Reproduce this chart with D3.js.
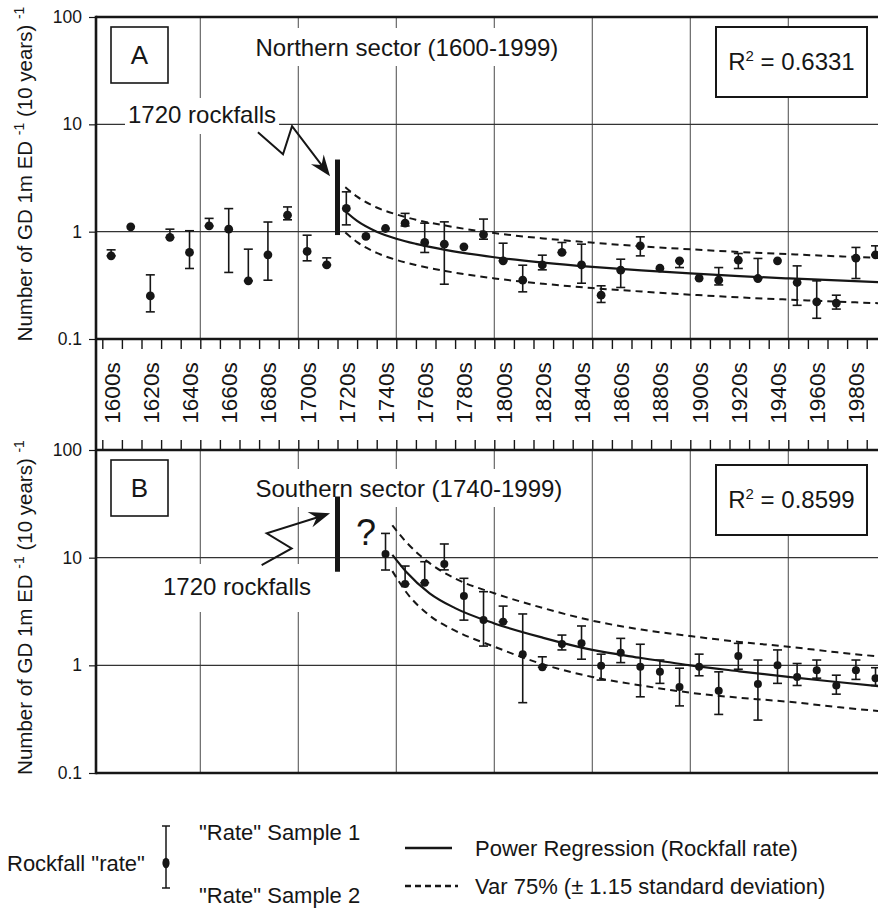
<!DOCTYPE html>
<html>
<head>
<meta charset="utf-8">
<script src="https://cdn.jsdelivr.net/npm/d3@7"></script>
<style>
  body { margin: 0; background: #fff; }
  svg { display: block; font-family: "Liberation Sans", Arial, sans-serif; }
</style>
</head>
<body>
<div id="chart"></div>
<script>
// decades (start year) and rates, panel A = northern sector
const decadesA = [1600,1610,1620,1630,1640,1650,1660,1670,1680,1690,1700,1710,1720,1730,1740,1750,1760,1770,1780,1790,
                  1800,1810,1820,1830,1840,1850,1860,1870,1880,1890,1900,1910,1920,1930,1940,1950,1960,1970,1980,1990];
const rateA    = [0.595,1.11,0.252,0.883,0.64,1.13,1.055,0.348,0.608,1.425,0.654,0.49,1.645,0.902,1.07,1.2,0.793,0.765,0.722,0.94,
                  0.535,0.353,0.49,0.64,0.49,0.256,0.438,0.738,0.457,0.535,0.369,0.353,0.542,0.366,0.535,0.336,0.222,0.216,0.566,0.608];
const sample1A = [0.677,null,0.396,1.055,1.02,1.33,1.64,0.687,1.23,1.70,0.927,0.57,2.35,null,null,1.48,1.2,1.234,null,1.31,
                  0.781,0.487,0.604,0.793,0.765,0.313,0.554,0.895,null,0.535,null,0.463,0.626,0.563,null,0.48,0.348,0.256,0.713,0.738];
const sample2A = [0.595,null,0.179,0.883,0.454,1.13,0.417,0.348,0.353,1.29,0.535,0.49,1.157,null,null,1.13,0.64,0.324,null,0.851,
                  0.535,0.275,0.441,0.64,0.331,0.219,0.302,0.595,null,0.463,null,0.319,0.454,0.366,null,0.206,0.156,0.19,0.366,0.608];

// panel B = southern sector
const decadesB = [1740,1750,1760,1770,1780,1790,1800,1810,1820,1830,1840,1850,1860,1870,1880,1890,1900,1910,1920,1930,1940,1950,1960,1970,1980,1990];
const rateB    = [10.8,5.69,5.85,8.73,4.40,2.63,2.54,1.27,0.96,1.58,1.60,0.99,1.31,0.97,0.87,0.63,0.97,0.58,1.22,0.67,1.0,0.78,0.90,0.65,0.90,0.76];
const sample1B = [16.8,8.36,9.17,13.4,6.43,4.83,3.55,3.0,1.2,1.91,2.32,1.27,1.78,1.57,1.12,0.94,1.27,0.87,1.6,1.12,1.39,1.04,1.12,0.81,1.12,0.95];
const sample2B = [7.68,5.69,5.85,7.7,2.63,1.51,2.54,0.45,0.96,1.39,1.14,0.73,1.06,0.51,0.68,0.42,0.80,0.35,0.92,0.31,0.68,0.65,0.76,0.54,0.74,0.65];

// power regression and +-1.15 sd band
const fitYearsA = [1724,1730,1740,1750,1760,1775,1800,1825,1850,1875,1900,1925,1950,1975,2000];
const fitA      = [1.55,1.26,1.00,0.86,0.77,0.677,0.578,0.515,0.47,0.436,0.408,0.385,0.367,0.351,0.337];
const upperA    = [2.6,2.12,1.68,1.45,1.29,1.14,0.97,0.865,0.79,0.73,0.685,0.647,0.617,0.59,0.566];
const lowerA    = [0.98,0.80,0.635,0.546,0.489,0.43,0.367,0.327,0.298,0.277,0.259,0.244,0.233,0.223,0.214];

const fitYearsB = [1748,1755,1767,1780,1800,1825,1850,1875,1900,1925,1950,1975,2000];
const fitB      = [10.6,7.4,4.67,3.4,2.45,1.8,1.39,1.17,1.0,0.88,0.78,0.70,0.63];
const upperB    = [20,14,8.9,6.4,4.67,3.4,2.6,2.15,1.87,1.65,1.49,1.32,1.19];
const lowerB    = [7.5,4.8,2.9,2.1,1.49,1.02,0.78,0.65,0.557,0.5,0.459,0.41,0.37];

const yTicks = [0.1, 1, 10, 100];
const gridYears = [1650,1700,1750,1800,1850,1900,1950];
const labelYears = [1600,1620,1640,1660,1680,1700,1720,1740,1760,1780,1800,1820,1840,1860,1880,1900,1920,1940,1960,1980];
const tickYears = d3.range(1600, 2001, 10);

// 1720 rockfalls marker [low, high] and arrow path (year, value)
const rockfallBarA = [0.93, 4.7];
const rockfallBarB = [7.4, 37];
const zigA = [[1679.4, 8.45], [1692.2, 5.27], [1696.8, 9.6], [1716.2, 3.29]];
const zigB = [[1681.3, 8.54], [1696.6, 12.2], [1683.9, 16.8], [1716.2, 25.8]];

const W = 878, H = 909;
const left = 96, right = 900;
const svg = d3.select("#chart").append("svg").attr("width", W).attr("height", H);
svg.append("rect").attr("width", W).attr("height", H).attr("fill", "#fff");

const x = d3.scaleLinear().domain([1600, 2000]).range([102.3, 886.3]);
const yA = d3.scaleLog().domain([0.1, 100]).range([339, 17]);
const yB = d3.scaleLog().domain([0.1, 100]).range([773, 450]);

const ink = "#161616";
const gridColor = "#5a5a5a";

function panel(cfg) {
  const g = svg.append("g");
  const y = cfg.y;
  const [yBot, yTop] = y.range();

  // grid
  g.selectAll(".vg").data(gridYears).join("line")
    .attr("x1", d => x(d)).attr("x2", d => x(d))
    .attr("y1", yTop).attr("y2", yBot)
    .attr("stroke", gridColor).attr("stroke-width", 1.1);
  g.selectAll(".hg").data([1, 10]).join("line")
    .attr("x1", left).attr("x2", right)
    .attr("y1", d => y(d)).attr("y2", d => y(d))
    .attr("stroke", "#333").attr("stroke-width", 1.1);

  // y axis ticks and labels
  const ax = g.append("g").attr("transform", `translate(${left},0)`)
    .call(d3.axisLeft(y).tickValues(yTicks).tickFormat(d3.format("~g")).tickSize(7).tickPadding(7));
  ax.select(".domain").remove();
  ax.selectAll("line").attr("stroke", ink).attr("stroke-width", 1.2);
  ax.selectAll("text").attr("font-size", 17.5).attr("fill", ink)
    .attr("font-family", "'Liberation Sans', Arial, sans-serif");

  // texts with white background
  const labels = g.append("g");
  function boxedText(tx, ty, str, size, pad) {
    const bg = labels.append("rect").attr("fill", "#fff");
    const t = labels.append("text").attr("x", tx).attr("y", ty)
      .attr("font-size", size).attr("fill", ink).text(str);
    const b = t.node().getBBox();
    bg.attr("x", b.x - pad[0]).attr("y", b.y - pad[1])
      .attr("width", b.width + 2 * pad[0]).attr("height", b.height + pad[1] + pad[2]);
  }
  boxedText(255.5, cfg.titleY, cfg.title, 24, [4, 6, 5]);
  boxedText(cfg.rockX, cfg.rockY, "1720 rockfalls", 24, cfg.rockPad);

  // regression curves
  const line = d3.line().x(d => x(d[0])).y(d => y(d[1])).curve(d3.curveMonotoneX);
  const zipped = arr => cfg.fitYears.map((yr, i) => [yr, arr[i]]);
  g.append("path").attr("d", line(zipped(cfg.upper))).attr("fill", "none")
    .attr("stroke", ink).attr("stroke-width", 2).attr("stroke-dasharray", "7,5");
  g.append("path").attr("d", line(zipped(cfg.lower))).attr("fill", "none")
    .attr("stroke", ink).attr("stroke-width", 2).attr("stroke-dasharray", "7,5");
  g.append("path").attr("d", line(zipped(cfg.fit))).attr("fill", "none")
    .attr("stroke", ink).attr("stroke-width", 2.2);

  // error bars and points
  const pts = cfg.decades.map((d, i) => ({ yr: d + 4.5, v: cfg.rate[i], s1: cfg.s1[i], s2: cfg.s2[i] }));
  const bars = g.append("g").selectAll("g").data(pts.filter(p => p.s1 != null)).join("g")
    .attr("stroke", ink).attr("stroke-width", 1.6);
  bars.append("line").attr("x1", p => x(p.yr)).attr("x2", p => x(p.yr))
    .attr("y1", p => y(p.s1)).attr("y2", p => y(p.s2));
  bars.append("line").attr("x1", p => x(p.yr) - 4.5).attr("x2", p => x(p.yr) + 4.5)
    .attr("y1", p => y(p.s1)).attr("y2", p => y(p.s1));
  bars.append("line").attr("x1", p => x(p.yr) - 4.5).attr("x2", p => x(p.yr) + 4.5)
    .attr("y1", p => y(p.s2)).attr("y2", p => y(p.s2));
  g.append("g").selectAll("circle").data(pts).join("circle")
    .attr("cx", p => x(p.yr)).attr("cy", p => y(p.v)).attr("r", cfg.r).attr("fill", ink);

  // 1720 rockfalls marker
  g.append("line").attr("x1", x(1720)).attr("x2", x(1720))
    .attr("y1", y(cfg.bar[0])).attr("y2", y(cfg.bar[1]))
    .attr("stroke", ink).attr("stroke-width", 5);

  // zigzag arrow
  const p = cfg.zig.map(d => [x(d[0]), y(d[1])]);
  const n = p.length;
  const ang = Math.atan2(p[n - 1][1] - p[n - 2][1], p[n - 1][0] - p[n - 2][0]);
  const shaft = p.slice(0, n - 1).concat([[p[n - 1][0] - 12 * Math.cos(ang), p[n - 1][1] - 12 * Math.sin(ang)]]);
  g.append("path").attr("d", d3.line()(shaft)).attr("fill", "none")
    .attr("stroke", ink).attr("stroke-width", 2).attr("stroke-linejoin", "miter");
  g.append("path").attr("d", "M0,0 L-21,-8 L-14,0 L-21,8 Z")
    .attr("transform", `translate(${p[n - 1][0]},${p[n - 1][1]}) rotate(${ang * 180 / Math.PI})`)
    .attr("fill", ink);

  // panel letter box
  g.append("rect").attr("x", 111).attr("y", yTop + 10).attr("width", 57).attr("height", 56)
    .attr("fill", "#fff").attr("stroke", ink).attr("stroke-width", 1.6);
  g.append("text").attr("x", 139.5).attr("y", yTop + 47).attr("text-anchor", "middle")
    .attr("font-size", 26).attr("fill", ink).text(cfg.letter);

  // R squared box
  g.append("rect").attr("x", 716).attr("y", cfg.rY).attr("width", 151).attr("height", 70)
    .attr("fill", "#fff").attr("stroke", ink).attr("stroke-width", 2);
  const rt = g.append("text").attr("x", 791.5).attr("y", cfg.rY + 43).attr("text-anchor", "middle")
    .attr("font-size", 24).attr("fill", ink);
  rt.append("tspan").text("R");
  rt.append("tspan").attr("dy", -9).attr("font-size", 15).text("2");
  rt.append("tspan").attr("dy", 9).text(" = " + cfg.r2);

  // y title
  const yt = g.append("text")
    .attr("transform", `translate(32,${(yTop + yBot) / 2 - 4}) rotate(-90)`)
    .attr("text-anchor", "middle").attr("font-size", 20.5).attr("fill", ink);
  yt.append("tspan").text("Number of GD 1m ED ");
  yt.append("tspan").attr("dy", -8).attr("font-size", 14).text("-1");
  yt.append("tspan").attr("dy", 8).text(" (10 years) ");
  yt.append("tspan").attr("dy", -8).attr("font-size", 14).text("-1");

  return g;
}

panel({
  y: yA, title: "Northern sector (1600-1999)", titleY: 56, rockX: 128, rockY: 123, rockPad: [3, 3, 6],
  fitYears: fitYearsA, fit: fitA, upper: upperA, lower: lowerA,
  decades: decadesA, rate: rateA, s1: sample1A, s2: sample2A, r: 4.4,
  bar: rockfallBarA, zig: zigA, letter: "A", rY: 27, r2: "0.6331"
});
const gB = panel({
  y: yB, title: "Southern sector (1740-1999)", titleY: 497, rockX: 163, rockY: 595, rockPad: [10, 9, 12],
  fitYears: fitYearsB, fit: fitB, upper: upperB, lower: lowerB,
  decades: decadesB, rate: rateB, s1: sample1B, s2: sample2B, r: 4,
  bar: rockfallBarB, zig: zigB, letter: "B", rY: 465, r2: "0.8599"
});
gB.append("text").attr("x", 356).attr("y", 545).attr("font-size", 36).attr("fill", ink).text("?");

// decade band between the panels
const band = svg.append("g");
band.append("g").attr("transform", "translate(0,339)")
  .call(d3.axisBottom(x).tickValues(tickYears).tickSize(10).tickFormat(""))
  .call(a => a.select(".domain").remove())
  .selectAll("line").attr("stroke", ink).attr("stroke-width", 1.4);
band.append("g").attr("transform", "translate(0,450)")
  .call(d3.axisTop(x).tickValues(tickYears).tickSize(10).tickFormat(""))
  .call(a => a.select(".domain").remove())
  .selectAll("line").attr("stroke", ink).attr("stroke-width", 1.4);
band.selectAll(".yl").data(labelYears).join("text")
  .attr("transform", d => `translate(${x(d + 5)},393) rotate(-90)`)
  .attr("text-anchor", "middle").attr("dominant-baseline", "central")
  .attr("font-size", 22.5).attr("fill", ink).text(d => d + "s");

// frame
const frame = svg.append("g").attr("stroke", ink).attr("stroke-width", 2.6);
[17, 339, 450, 773].forEach(v => frame.append("line").attr("x1", left).attr("x2", right).attr("y1", v).attr("y2", v));
frame.append("line").attr("x1", left).attr("x2", left).attr("y1", 17 - 1.3).attr("y2", 773 + 1.3);

// legend
const lg = svg.append("g").attr("fill", ink).attr("font-size", 22);
lg.append("text").attr("x", 7).attr("y", 871).text("Rockfall \"rate\"");
lg.append("line").attr("x1", 166).attr("x2", 166).attr("y1", 826).attr("y2", 888).attr("stroke", ink).attr("stroke-width", 1.5);
lg.append("line").attr("x1", 162).attr("x2", 170).attr("y1", 826).attr("y2", 826).attr("stroke", ink).attr("stroke-width", 1.5);
lg.append("line").attr("x1", 162).attr("x2", 170).attr("y1", 888).attr("y2", 888).attr("stroke", ink).attr("stroke-width", 1.5);
lg.append("ellipse").attr("cx", 166).attr("cy", 863).attr("rx", 3.6).attr("ry", 5.2);
lg.append("text").attr("x", 199).attr("y", 840).text("\"Rate\" Sample 1");
lg.append("text").attr("x", 199).attr("y", 903).text("\"Rate\" Sample 2");
lg.append("line").attr("x1", 405).attr("x2", 452).attr("y1", 848).attr("y2", 848).attr("stroke", ink).attr("stroke-width", 2.5);
lg.append("text").attr("x", 475).attr("y", 856).text("Power Regression (Rockfall rate)");
lg.append("line").attr("x1", 405).attr("x2", 458).attr("y1", 886).attr("y2", 886).attr("stroke", ink).attr("stroke-width", 2.5).attr("stroke-dasharray", "6,4");
lg.append("text").attr("x", 475).attr("y", 894).text("Var 75% (\u00b1 1.15 standard deviation)");
</script>
</body>
</html>
